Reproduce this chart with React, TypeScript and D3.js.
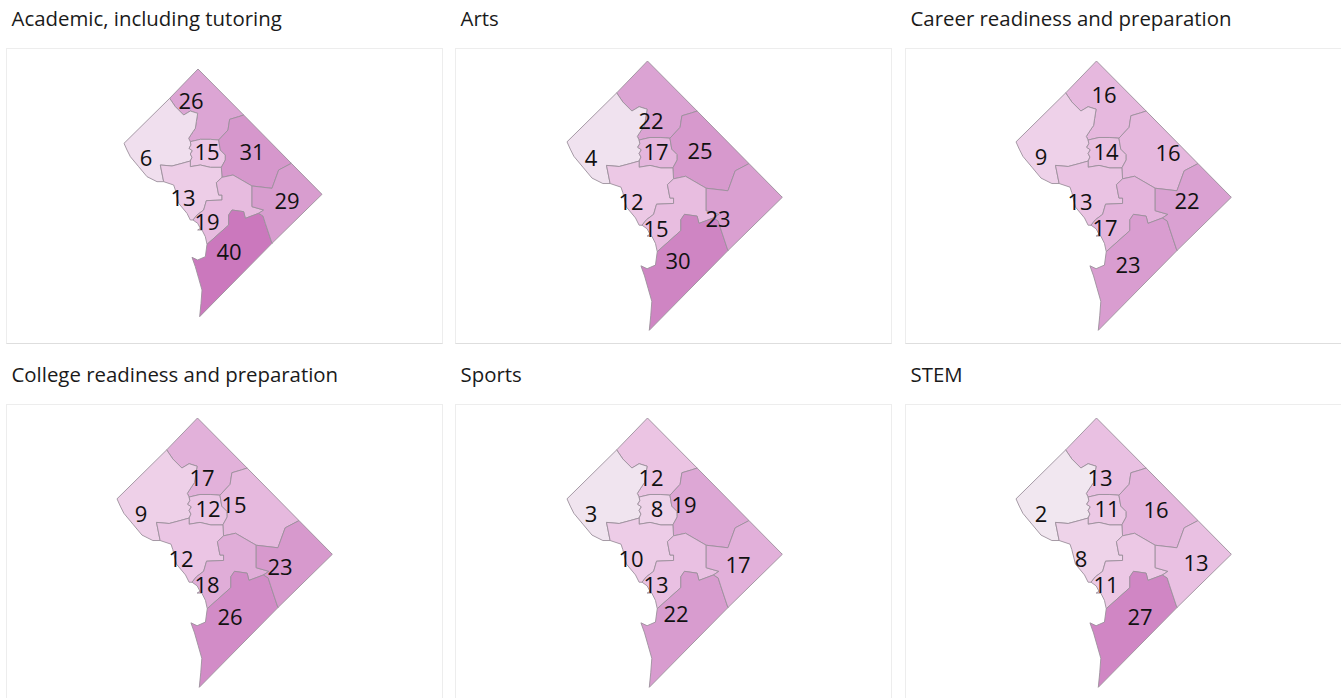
import React from "react";
import * as d3 from "d3";

const WIDTH = 1341;
const HEIGHT = 698;

const titles = [
  "Academic, including tutoring",
  "Arts",
  "Career readiness and preparation",
  "College readiness and preparation",
  "Sports",
  "STEM",
];

const wards = ["w4", "w3", "w1", "w5", "w2", "w6", "w8", "w7"];

const academic = [26, 6, 15, 31, 13, 19, 40, 29];
const arts = [22, 4, 17, 25, 12, 15, 30, 23];
const career = [16, 9, 14, 16, 13, 17, 23, 22];
const college = [17, 9, 12, 15, 12, 18, 26, 23];
const sports = [12, 3, 8, 19, 10, 13, 22, 17];
const stem = [13, 2, 11, 16, 8, 11, 27, 13];
const seriesValues = [academic, arts, career, college, sports, stem];

// value at which each panel's colour ramp reaches its darkest tone
const rampMax = [40, 33, 32, 30.5, 30, 30];

type P = [number, number];
// ward borders in a shared map space
const b34: P[] = [[178,115],[195,140],[220,165],[240,153],[262,160],[258,185],[255,205],[248,215],[235,235],[240,245]];
const b14: P[] = [[240,245],[270,238],[300,238],[325,240]];
const b45: P[] = [[325,240],[353,210],[358,178],[385,170],[400,165]];
const b13: P[] = [[240,245],[242,255],[236,265],[246,272],[240,282],[245,292],[240,303]];
const b23: P[] = [[240,303],[215,310],[185,318],[150,315],[160,365]];
const b12: P[] = [[240,303],[240,320],[270,315],[300,322],[333,322]];
const b15: P[] = [[325,240],[330,270],[345,285],[345,300],[333,322]];
const b25: P[] = [[333,322],[335,352]];
const b26: P[] = [[335,352],[318,368],[325,405],[335,405],[335,420],[288,422],[280,450],[260,465],[248,480]];
const b56: P[] = [[335,352],[368,345],[425,378]];
const b57: P[] = [[425,378],[485,385],[505,330],[543,310]];
const b67: P[] = [[425,378],[425,440],[460,450],[445,460]];
const b68: P[] = [[445,460],[405,475],[400,455],[365,450],[355,465],[355,495],[290,553]];
const b78: P[] = [[445,460],[458,468],[465,490],[485,550]];

const rev = (a: P[]) => [...a].reverse();

const N: P = [263, 27];
const E: P = [635, 403];
const S: P = [268, 770];
const W: P = [41, 250];
const shore3: P[] = [[140,365],[110,350],[85,320],[60,290],[50,270]];
const shore2: P[] = [[240,480],[230,460],[205,430],[195,390],[190,375]];
const shore6: P[] = [[285,530],[275,510],[262,510],[270,505],[262,490]];
const shore8: P[] = [[285,590],[262,600],[245,592],[255,620],[265,655],[275,690],[272,730]];

const outlines: P[][] = [
  [N, ...rev(b45), ...rev(b14), ...rev(b34)],
  [...b34, ...b13, ...b23, ...shore3, W],
  [...b14, ...b15, ...rev(b12), ...rev(b13)],
  [[543,310], ...rev(b57), ...rev(b56), ...rev(b25), ...rev(b15), ...b45],
  [...rev(b23), ...b12, ...b25, ...b26, ...shore2],
  [...b56, ...b67, ...b68, ...shore6, ...rev(b26)],
  [...b68, ...shore8, S, ...rev(b78)],
  [...b57, E, ...rev(b78), ...rev(b67)],
];

// per-panel frame and map placement in page pixels
const frames = [
  { x: 7, y: 49, w: 436, h: 295, mapLeft: 124, mapTop: 69, mapScale: 1 / 3 },
  { x: 456, y: 49, w: 436, h: 295, mapLeft: 567, mapTop: 61, mapScale: 0.3625 },
  { x: 906, y: 49, w: 436, h: 295, mapLeft: 1016, mapTop: 61, mapScale: 0.3625 },
  { x: 7, y: 405, w: 436, h: 297, mapLeft: 117, mapTop: 418, mapScale: 0.3625 },
  { x: 456, y: 405, w: 436, h: 297, mapLeft: 567, mapTop: 418, mapScale: 0.3625 },
  { x: 906, y: 405, w: 436, h: 297, mapLeft: 1016, mapTop: 418, mapScale: 0.3625 },
];

const labelXY: P[][] = [
  [[191,100],[146,157],[207,151],[252,151],[183,197],[207,221],[229,251],[287,200]],
  [[651,120],[591,157],[656,151],[700,150],[631,201],[656,228],[678,260],[718,218]],
  [[1104,94],[1041,156],[1106,151],[1168,152],[1080,201],[1105,227],[1128,264],[1187,200]],
  [[202,477],[141,513],[208,508],[234,504],[181,558],[207,584],[230,616],[280,566]],
  [[651,477],[591,513],[657,508],[684,504],[631,558],[656,584],[676,613],[738,564]],
  [[1100,477],[1041,513],[1107,508],[1156,509],[1081,558],[1106,584],[1140,616],[1196,562]],
];

const FONT = "'Open Sans', Lato, sans-serif";

export default function App() {
  const ramp = d3
    .scaleLinear<string>()
    .domain([0, 0.15, 0.35, 0.5, 0.65, 0.775, 1])
    .range(["#f1eef1", "#f0dfee", "#edcae6", "#e6b8de", "#dca5d4", "#d697cc", "#cb78bd"])
    .clamp(true);

  return (
    <svg
      width={WIDTH}
      height={HEIGHT}
      viewBox={`0 0 ${WIDTH} ${HEIGHT}`}
      style={{ position: "absolute", left: 0, top: 0, background: "#fff", display: "block" }}
    >
      {titles.map((title, i) => {
        const f = frames[i];
        const x = d3
          .scaleLinear()
          .domain([W[0], E[0]])
          .range([f.mapLeft, f.mapLeft + (E[0] - W[0]) * f.mapScale]);
        const y = d3
          .scaleLinear()
          .domain([N[1], S[1]])
          .range([f.mapTop, f.mapTop + (S[1] - N[1]) * f.mapScale]);
        const line = d3
          .line<P>()
          .x((d) => x(d[0]))
          .y((d) => y(d[1]))
          .curve(d3.curveLinearClosed);
        return (
          <g key={title}>
            <text x={f.x + 4.5} y={f.y - 23} fontFamily={FONT} fontSize={20.4} fill="#1a1a1a">
              {title}
            </text>
            <rect
              x={f.x - 0.5}
              y={f.y - 0.5}
              width={f.w}
              height={f.h}
              fill="#fff"
              stroke="#ededed"
              strokeWidth={1}
            />
            <line
              x1={f.x - 0.5}
              x2={f.x + f.w - 0.5}
              y1={f.y + f.h - 0.5}
              y2={f.y + f.h - 0.5}
              stroke="#dedede"
              strokeWidth={1}
            />
            {wards.map((w, k) => (
              <path
                key={w}
                d={line(outlines[k]) || ""}
                fill={ramp(seriesValues[i][k] / rampMax[i])}
                stroke="#9c909c"
                strokeWidth={0.9}
                strokeLinejoin="round"
              />
            ))}
            {wards.map((w, k) => (
              <text
                key={w}
                x={labelXY[i][k][0]}
                y={labelXY[i][k][1]}
                textAnchor="middle"
                dominantBaseline="central"
                fontFamily={FONT}
                fontSize={22}
                fill="#111"
              >
                {seriesValues[i][k]}
              </text>
            ))}
          </g>
        );
      })}
    </svg>
  );
}
